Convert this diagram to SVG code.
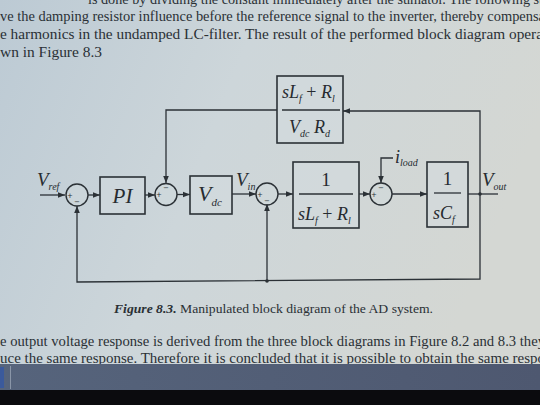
<svg xmlns="http://www.w3.org/2000/svg" width="540" height="405" viewBox="0 0 540 405">
<defs>
<linearGradient id="bg" x1="0" y1="0" x2="1" y2="0.3">
<stop offset="0" stop-color="#bccad4"/>
<stop offset="0.45" stop-color="#cdd6da"/>
<stop offset="1" stop-color="#d4d7d3"/>
</linearGradient>
<linearGradient id="band" x1="0" y1="0" x2="1" y2="0">
<stop offset="0" stop-color="#56647c"/>
<stop offset="1" stop-color="#4e5870"/>
</linearGradient>
<marker id="ar" viewBox="0 0 10 10" refX="10" refY="5" markerWidth="7" markerHeight="7" orient="auto" markerUnits="userSpaceOnUse">
<path d="M0,1 L10,5 L0,9 z" fill="#2b3136"/>
</marker>
<style>
.ln{fill:none;stroke:#2b3136;stroke-width:1.3}
.bx{fill:#d3dbdf;fill-opacity:0.5;stroke:#2b3136;stroke-width:1.6}
.sm{fill:#d3dbdf;fill-opacity:0.4;stroke:#2b3136;stroke-width:1.4}
.sg{font-family:"DejaVu Sans",sans-serif;font-size:7px;fill:#2b3136;text-anchor:middle}
.m{font-family:"Liberation Serif",serif;font-style:italic;fill:#262b30}
.mr{font-family:"Liberation Serif",serif;fill:#262b30}
.tx{font-family:"Liberation Serif","DejaVu Serif",serif;font-size:14px;fill:#2a3035}
.cap{font-family:"Liberation Serif","DejaVu Serif",serif;font-size:13px;fill:#2a3035}
</style>
</defs>
<rect width="540" height="405" fill="url(#bg)"/>

<!-- body text -->
<text class="tx" x="88" y="3.5" textLength="455" lengthAdjust="spacingAndGlyphs">is done by dividing the constant immediately after the sumator. The following st</text>
<text class="tx" x="0" y="20.5" textLength="545" lengthAdjust="spacingAndGlyphs">ve the damping resistor influence before the reference signal to the inverter, thereby compensa</text>
<text class="tx" x="0" y="38.5" textLength="543" lengthAdjust="spacingAndGlyphs">e harmonics in the undamped LC-filter. The result of the performed block diagram opera</text>
<text class="tx" x="0" y="57" textLength="102" lengthAdjust="spacingAndGlyphs">wn in Figure 8.3</text>

<!-- connectors -->
<g id="connectors">
<line class="ln" x1="40" y1="195" x2="65" y2="195" marker-end="url(#ar)"/>
<line class="ln" x1="88" y1="195" x2="100" y2="195" marker-end="url(#ar)"/>
<line class="ln" x1="145" y1="195" x2="155" y2="195" marker-end="url(#ar)"/>
<line class="ln" x1="177" y1="194.5" x2="190" y2="194.5" marker-end="url(#ar)"/>
<line class="ln" x1="232" y1="194" x2="256" y2="194" marker-end="url(#ar)"/>
<line class="ln" x1="278" y1="194" x2="293" y2="194" marker-end="url(#ar)"/>
<line class="ln" x1="359" y1="194" x2="370" y2="194" marker-end="url(#ar)"/>
<line class="ln" x1="392" y1="194" x2="427" y2="194" marker-end="url(#ar)"/>
<line class="ln" x1="468" y1="194" x2="498" y2="194"/>
<polyline class="ln" points="480,194 480,111 343,111" marker-end="url(#ar)"/>
<polyline class="ln" points="277,110 166,110 166,183" marker-end="url(#ar)"/>
<polyline class="ln" points="480,194 480,279 77,282 77,206" marker-end="url(#ar)"/>
<polyline class="ln" points="267,281 267,204" marker-end="url(#ar)"/>
<polyline class="ln" points="393,158 381,158 381,183" marker-end="url(#ar)"/>
<circle cx="480" cy="194" r="1.8" fill="#2b3136"/>
<circle cx="267" cy="281" r="1.8" fill="#2b3136"/>
</g>

<!-- nodes -->
<g id="sum1">
<circle class="sm" cx="77" cy="195" r="11"/>
<text class="sg" x="70" y="197.5">+</text>
<text class="sg" x="77" y="204">−</text>
</g>
<g id="pi">
<rect class="bx" x="100" y="177" width="45" height="37"/>
<text class="m" x="122.5" y="203" font-size="21" text-anchor="middle">PI</text>
</g>
<g id="sum2">
<circle class="sm" cx="166" cy="194.5" r="11"/>
<text class="sg" x="159" y="197">+</text>
<text class="sg" x="166" y="190">−</text>
</g>
<g id="vdc">
<rect class="bx" x="190" y="176" width="42" height="38"/>
<text class="m" x="198" y="201" font-size="22">V<tspan font-size="11" dy="5">dc</tspan></text>
</g>
<g id="sum3">
<circle class="sm" cx="267" cy="194" r="11"/>
<text class="sg" x="260" y="196.5">+</text>
<text class="sg" x="267" y="203">−</text>
</g>
<g id="g1">
<rect class="bx" x="293" y="162" width="66" height="66"/>
<line class="ln" x1="299" y1="194" x2="353" y2="194"/>
<text class="mr" x="326" y="186" font-size="19" text-anchor="middle">1</text>
<text class="m" x="298" y="220" font-size="18">sL<tspan font-size="10" dy="4">f</tspan><tspan dy="-4" font-style="normal"> + </tspan>R<tspan font-size="10" dy="4">l</tspan></text>
</g>
<g id="sum4">
<circle class="sm" cx="381" cy="194" r="11"/>
<text class="sg" x="374" y="196.5">+</text>
<text class="sg" x="381" y="190">−</text>
</g>
<g id="g2">
<rect class="bx" x="427" y="162" width="41" height="65"/>
<line class="ln" x1="434" y1="193" x2="461" y2="193"/>
<text class="mr" x="447.5" y="185" font-size="19" text-anchor="middle">1</text>
<text class="m" x="433" y="219" font-size="18">sC<tspan font-size="10" dy="4">f</tspan></text>
</g>
<g id="fb">
<rect class="bx" x="277" y="76" width="66" height="67"/>
<line class="ln" x1="282" y1="110" x2="340" y2="110"/>
<text class="m" x="282" y="98" font-size="18">sL<tspan font-size="10" dy="4">f</tspan><tspan dy="-4" font-style="normal"> + </tspan>R<tspan font-size="10" dy="4">l</tspan></text>
<text class="m" x="289" y="133" font-size="18">V<tspan font-size="10" dy="4">dc</tspan><tspan dy="-4"> R</tspan><tspan font-size="10" dy="4">d</tspan></text>
</g>

<!-- signal labels -->
<g id="labels">
<text class="m" x="37" y="186" font-size="19">V<tspan font-size="10" dy="4">ref</tspan></text>
<text class="m" x="236" y="186" font-size="19">V<tspan font-size="10" dy="4">in</tspan></text>
<text class="m" x="482" y="186" font-size="19">V<tspan font-size="10" dy="4">out</tspan></text>
<text class="m" x="395" y="163" font-size="18">i<tspan font-size="10" dy="3">load</tspan></text>
</g>

<!-- caption and text -->
<text class="cap" x="114" y="313" textLength="319" lengthAdjust="spacingAndGlyphs"><tspan font-weight="bold" font-style="italic">Figure 8.3.</tspan> Manipulated block diagram of the AD system.</text>
<text class="tx" x="0" y="345.5" textLength="545" lengthAdjust="spacingAndGlyphs">e output voltage response is derived from the three block diagrams in Figure 8.2 and 8.3 they</text>
<text class="tx" x="0" y="362.5" textLength="545" lengthAdjust="spacingAndGlyphs">uce the same response. Therefore it is concluded that it is possible to obtain the same respo</text>

<!-- screen bottom -->
<rect x="0" y="364" width="540" height="27" fill="url(#band)"/>
<rect x="0" y="367" width="4" height="21" fill="#3b5a9c"/>
<line x1="10.5" y1="366" x2="10.5" y2="389" stroke="#8a96a8" stroke-width="1"/>
<rect x="0" y="390" width="540" height="15" fill="#0b0b0e"/>
</svg>
